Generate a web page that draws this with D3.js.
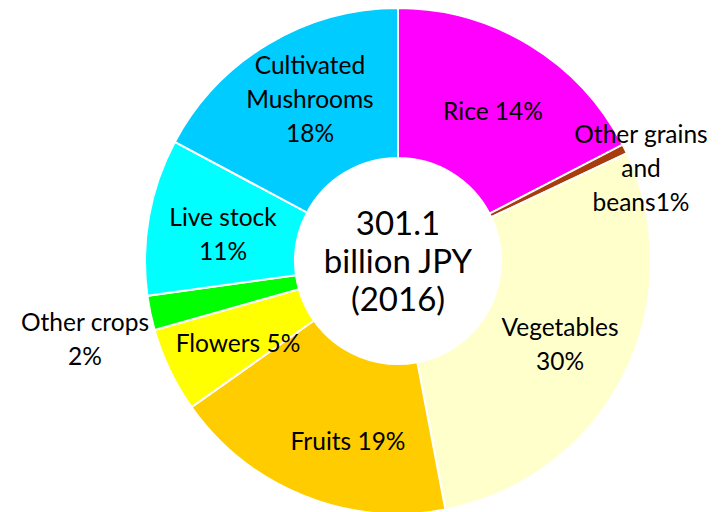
<!DOCTYPE html>
<html>
<head>
<meta charset="utf-8">
<script src="https://cdn.jsdelivr.net/npm/d3@7"></script>
<style>
  body { margin: 0; background: #fff; }
  svg { display: block; font-family: Lato, "Noto Sans", sans-serif; }
</style>
</head>
<body>
<svg id="chart" width="725" height="512"></svg>
<script>
// slices clockwise from 12 o'clock, shares
const categories = ["Rice", "Other grains and beans", "Vegetables", "Fruits", "Flowers", "Other crops", "Live stock", "Cultivated Mushrooms"];
const shares = [17.4, 0.6, 29.0, 18.2, 5.4, 2.2, 10.0, 17.2];
const labelLines = [
  ["Rice 14%"],
  ["Other grains", "and", "beans1%"],
  ["Vegetables", "30%"],
  ["Fruits 19%"],
  ["Flowers 5%"],
  ["Other crops", "2%"],
  ["Live stock", "11%"],
  ["Cultivated", "Mushrooms", "18%"]
];
const colors = ["#ff00ff", "#a83c0c", "#ffffcc", "#ffcc00", "#ffff00", "#00ff00", "#00ffff", "#00ccff"];
const centerLines = ["301.1", "billion JPY", "(2016)"];
const titleText = "Agricultural Output by Category";

const svg = d3.select("#chart");
const cx = 398, cy = 261, outerR = 253, innerR = 103;

// title sits above the frame, only descender tips peek in
svg.append("text")
  .attr("x", 420).attr("y", -5)
  .attr("text-anchor", "middle")
  .style("font-size", "30px").style("font-weight", "bold")
  .text(titleText);

const g = svg.append("g").attr("transform", `translate(${cx},${cy})`);

const pie = d3.pie().sort(null).value(d => d);
const arcs = pie(shares);
const arc = d3.arc().innerRadius(innerR).outerRadius(outerR);

g.selectAll("path.slice")
  .data(arcs)
  .enter().append("path")
  .attr("class", "slice")
  .attr("d", arc)
  .attr("fill", (d, i) => colors[i])
  .attr("stroke", "#fff")
  .attr("stroke-width", 2);

// label anchors (centre of text block), relative to centre
const labelPos = [
  [95, -150], [243, -93], [162, 83], [-50, 180],
  [-160, 82], [-313, 78], [-175, -27], [-88, -162]
];
const lineH = 34;

arcs.forEach((d, i) => {
  const lines = labelLines[i];
  const [lx, ly] = labelPos[i];
  const t = g.append("text")
    .attr("text-anchor", "middle")
    .style("font-size", "24.5px")
    .attr("fill", "#000");
  lines.forEach((s, k) => {
    t.append("tspan")
      .attr("x", lx)
      .attr("y", ly + (k - (lines.length - 1) / 2) * lineH)
      .attr("dy", "0.35em")
      .text(s);
  });
});

const ct = g.append("text")
  .attr("text-anchor", "middle")
  .style("font-size", "33px")
  .attr("fill", "#000");
centerLines.forEach((s, k) => {
  ct.append("tspan")
    .attr("x", 0)
    .attr("y", -38 + k * 38)
    .attr("dy", "0.35em")
    .text(s);
});
</script>
</body>
</html>
